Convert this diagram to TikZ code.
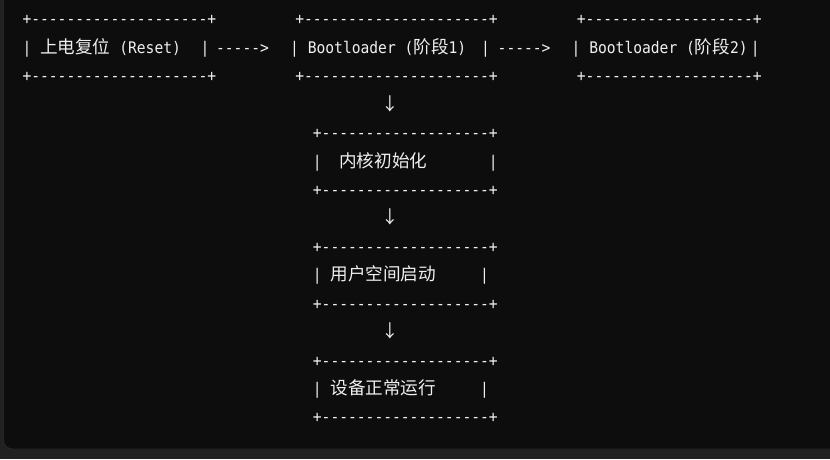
\documentclass[tikz,border=0pt]{standalone}
\usepackage{fontspec}
\setmonofont[FakeStretch=0.914]{DejaVu Sans Mono}
\newfontfamily\cjkfont{Noto Sans CJK SC}
\newcommand{\zh}[1]{{\cjkfont\fontsize{17.6}{21}\selectfont #1}}
\definecolor{pagebg}{HTML}{212121}
\definecolor{codebg}{HTML}{0D0D0D}
\definecolor{codeedge}{HTML}{262626}
\definecolor{codetxt}{HTML}{F0F0F0}
\tikzset{ascii/.style={font=\ttfamily\fontsize{16}{19}\selectfont, text=codetxt, inner sep=0pt, anchor=base west}}

\begin{document}
\begin{tikzpicture}[x=1pt,y=-1pt]
\useasboundingbox (0,0) rectangle (830,459);
\fill[pagebg] (0,0) rectangle (830,459);
\filldraw[fill=codebg, draw=codeedge, line width=0.8pt, rounded corners=9pt] (3.5,-20) rectangle (850,449);

% top row
\node[ascii] (resettop) at (22.3,24.9) {+--------------------+};
\node[ascii] (reset) at (22.3,53.3) {|~\zh{上电复位}~(Reset)~~\kern2pt|};
\node[ascii] (resetbot) at (22.3,81.8) {+--------------------+};
\node[ascii] (arrowa) at (215.9,53.3) {----->};
\node[ascii] (boot1top) at (295.1,24.9) {+---------------------+};
\node[ascii] (boot1) at (290,53.3) {|~Bootloader~(\zh{阶段}1)~\kern6pt|};
\node[ascii] (boot1bot) at (295.1,81.8) {+---------------------+};
\node[ascii] (arrowb) at (497.5,53.3) {----->};
\node[ascii] (boot2top) at (576.7,24.9) {+-------------------+};
\node[ascii] (boot2) at (571.5,53.3) {|~Bootloader~(\zh{阶段}2)\kern3pt|};
\node[ascii] (boot2bot) at (576.7,81.8) {+-------------------+};

% column under stage 1
\node[ascii, anchor=center] (downa) at (390,103.5) {\zh{↓}};
\node[ascii] (kerneltop) at (312.7,138.6) {+-------------------+};
\node[ascii] (kernel) at (312.7,167.1) {|~~\zh{内核初始化}~~~~~~~|};
\node[ascii] (kernelbot) at (312.7,195.5) {+-------------------+};
\node[ascii, anchor=center] (downb) at (390,217.2) {\zh{↓}};
\node[ascii] (usertop) at (312.7,252.3) {+-------------------+};
\node[ascii] (user) at (312.7,280.8) {|~\zh{用户空间启动}~~~~~|};
\node[ascii] (userbot) at (312.7,309.2) {+-------------------+};
\node[ascii, anchor=center] (downc) at (390,330.9) {\zh{↓}};
\node[ascii] (runtop) at (312.7,366.1) {+-------------------+};
\node[ascii] (run) at (312.7,394.5) {|~\zh{设备正常运行}~~~~~|};
\node[ascii] (runbot) at (312.7,422.9) {+-------------------+};
\end{tikzpicture}
\end{document}
